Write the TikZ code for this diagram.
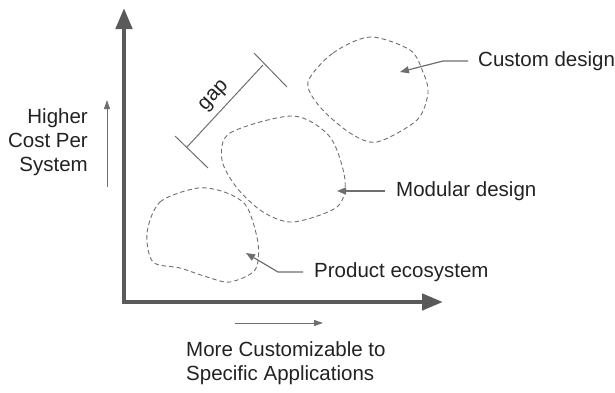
\documentclass[tikz,border=0pt]{standalone}
\usepackage{fontspec}
\setmainfont{Liberation Sans}
\usetikzlibrary{arrows.meta}
\definecolor{axisgray}{HTML}{5A5A5A}
\definecolor{linegray}{HTML}{6E6E6E}
\definecolor{inkgray}{HTML}{222222}

\begin{document}
\begin{tikzpicture}[x=1pt,y=-1pt,
    lbl/.style={text=inkgray,font=\fontsize{20.5}{24}\selectfont,inner sep=0pt},
    blob/.style={draw=linegray,line width=0.9pt,dash pattern=on 4.5pt off 3pt},
    ptr/.style={draw=linegray,line width=1.2pt,-{Triangle[length=9pt,width=7pt]}},
    thin/.style={draw=linegray,line width=1pt}]
  \useasboundingbox (0,0) rectangle (615,392);

  % axes
  \coordinate (top) at (124,8);
  \coordinate (o) at (124,302);
  \coordinate (right) at (443,302);
  \draw[line width=4.5pt,draw=axisgray,line join=miter,
    {Triangle[length=21pt,width=16pt]}-{Triangle[length=21pt,width=16pt]}]
    (top) -- (o) -- (right);

  % axis captions
  \node[lbl,align=right,anchor=east] (cost) at (88,142) {Higher\\Cost Per\\System};
  \coordinate (cb) at (107,187);
  \coordinate (ct) at (107,100);
  \draw[thin,-{Triangle[length=9pt,width=6pt]}] (cb) -- (ct);

  \node[lbl,align=left,anchor=north west] (custom) at (186,341)
    {More Customizable to\\Specific Applications};
  \coordinate (ml) at (235,323);
  \coordinate (mr) at (323,323);
  \draw[thin,-{Triangle[length=9pt,width=6pt]}] (ml) -- (mr);

  % regions
  \draw[blob] plot[smooth cycle] coordinates {(308,82) (333,53) (370,37) (410,50)
    (423,72) (428,93) (417,120) (377,142) (350,133) (320,107)};
  \draw[blob] plot[smooth cycle] coordinates {(222,160) (230,133) (293,116) (330,137)
    (345,180) (337,207) (293,222) (263,212) (237,188)};
  \draw[blob] plot[smooth cycle] coordinates {(147,233) (160,202) (198,188) (227,193)
    (247,207) (258,243) (255,270) (230,282) (207,277) (180,268) (153,262)};

  % gap marker
  \coordinate (g1) at (187,147);
  \coordinate (g2) at (263,65);
  \draw[thin] (g1) -- node[lbl,sloped,above=6pt] (gap) {gap} (g2);
  \draw[thin] (175,136) -- (208,168);
  \draw[thin] (254,53) -- (287,87);

  % labels
  \node[lbl,anchor=west] (cd) at (478,61) {Custom design};
  \node[lbl,anchor=west] (md) at (396,191) {Modular design};
  \node[lbl,anchor=west] (pe) at (314,272) {Product ecosystem};

  \coordinate (cdt) at (400,72);
  \coordinate (mdt) at (337,191);
  \coordinate (pet) at (246,253);
  \draw[ptr] ([xshift=-10pt]cd.west) -- ++(-25,0) -- (cdt);
  \draw[ptr] ([xshift=-11pt]md.west) -- (mdt);
  \draw[ptr] ([xshift=-11pt]pe.west) -- ++(-25,0) -- (pet);
\end{tikzpicture}
\end{document}
